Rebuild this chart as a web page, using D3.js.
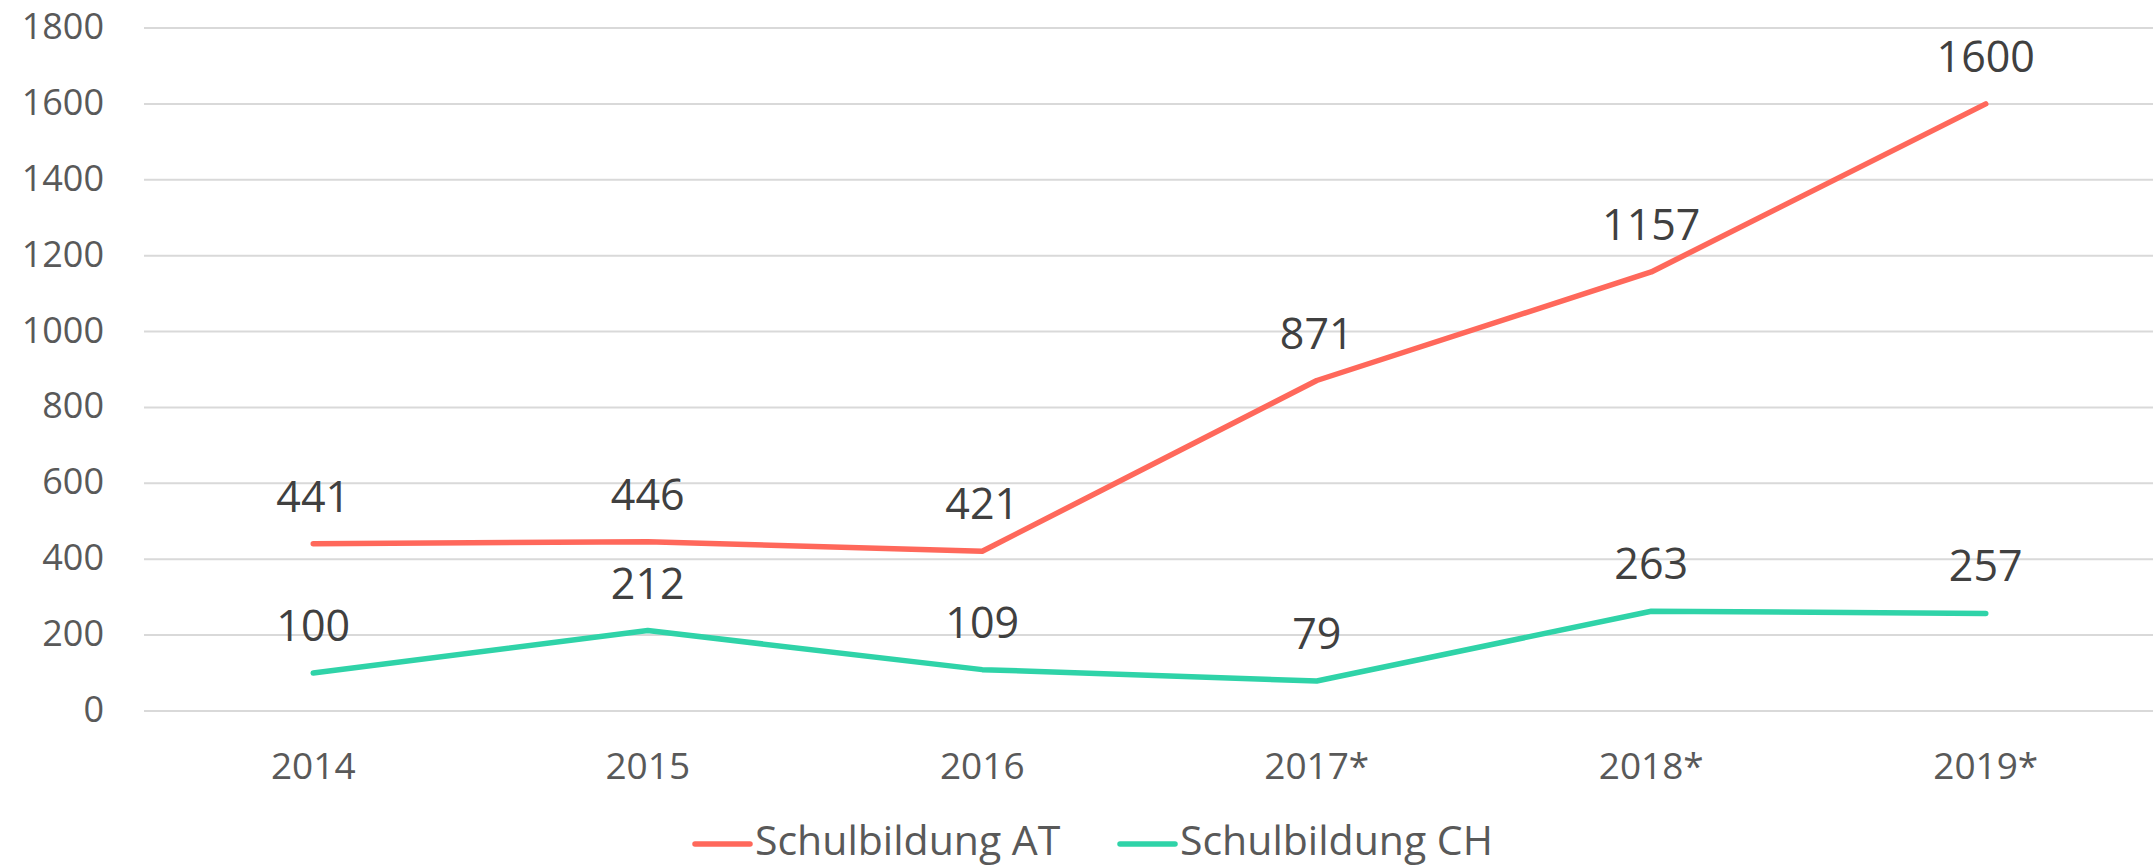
<!DOCTYPE html>
<html>
<head>
<meta charset="utf-8">
<script src="https://cdn.jsdelivr.net/npm/d3@7"></script>
<style>
  html, body { margin: 0; padding: 0; background: #fff; }
  svg { display: block; font-family: "Open Sans", sans-serif; }
</style>
</head>
<body>
<script>
// Schulbildung AT vs CH, 2014-2019
const years = ['2014', '2015', '2016', '2017*', '2018*', '2019*'];
const valuesAT = [441, 446, 421, 871, 1157, 1600];
const valuesCH = [100, 212, 109, 79, 263, 257];
const yTicks = [0, 200, 400, 600, 800, 1000, 1200, 1400, 1600, 1800];
const seriesNames = ['Schulbildung AT', 'Schulbildung CH'];
const seriesColors = ['#ff685b', '#2fd3a8'];

const w = 2153;
const h = 867;

const svg = d3.select('body').append('svg')
  .attr('width', w)
  .attr('height', h);

// Scales
const x = d3.scalePoint()
  .domain(years)
  .range([146, 2153])
  .padding(0.5);

const y = d3.scaleLinear()
  .domain([0, 1800])
  .range([711, 28]);

// Gridlines
svg.append('g')
  .attr('class', 'grid')
  .selectAll('line')
  .data(yTicks)
  .join('line')
  .attr('x1', 144)
  .attr('x2', w)
  .attr('y1', d => y(d))
  .attr('y2', d => y(d))
  .attr('stroke', '#d9d9d9')
  .attr('stroke-width', 2);

// Y tick labels
svg.append('g')
  .attr('class', 'y-labels')
  .selectAll('text')
  .data(yTicks)
  .join('text')
  .attr('x', 104)
  .attr('y', d => y(d) + 11)
  .attr('text-anchor', 'end')
  .attr('font-size', '36px')
  .attr('fill', '#595959')
  .text(d => d);

// X tick labels
svg.append('g')
  .attr('class', 'x-labels')
  .selectAll('text')
  .data(years)
  .join('text')
  .attr('x', d => x(d))
  .attr('y', 779)
  .attr('text-anchor', 'middle')
  .attr('font-size', '37px')
  .attr('fill', '#595959')
  .text(d => d);

const series = [valuesAT, valuesCH];

const line = d3.line()
  .x((d, i) => x(years[i]))
  .y(d => y(d));

// Lines
svg.append('g')
  .attr('class', 'lines')
  .selectAll('path')
  .data(series)
  .join('path')
  .attr('d', d => line(d))
  .attr('fill', 'none')
  .attr('stroke', (d, i) => seriesColors[i])
  .attr('stroke-width', 5.5)
  .attr('stroke-linecap', 'round')
  .attr('stroke-linejoin', 'round');

// Data labels above each point
series.forEach((vals, s) => {
  svg.append('g')
    .attr('class', 'data-labels')
    .selectAll('text')
    .data(vals)
    .join('text')
    .attr('x', (d, i) => x(years[i]))
    .attr('y', d => y(d) - 32)
    .attr('text-anchor', 'middle')
    .attr('font-size', '43px')
    .attr('fill', '#404040')
    .text(d => d);
});

// Legend
const legendX = [695, 1120];
const legend = svg.append('g')
  .attr('class', 'legend')
  .selectAll('g')
  .data(seriesNames)
  .join('g')
  .attr('transform', (d, i) => `translate(${legendX[i]},844)`);

legend.append('line')
  .attr('x1', 0)
  .attr('x2', 55)
  .attr('stroke', (d, i) => seriesColors[i])
  .attr('stroke-width', 5.5)
  .attr('stroke-linecap', 'round');

legend.append('text')
  .attr('x', 60)
  .attr('y', 11)
  .attr('font-size', '41px')
  .attr('fill', '#595959')
  .text(d => d);
</script>
</body>
</html>
